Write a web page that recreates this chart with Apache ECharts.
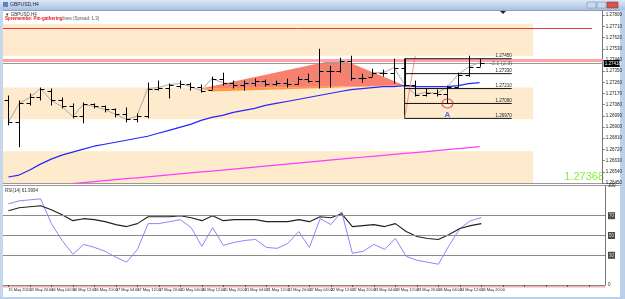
<!DOCTYPE html>
<html>
<head>
<meta charset="utf-8">
<script src="https://cdn.jsdelivr.net/npm/echarts@6/dist/echarts.min.js"></script>
<style>
html,body{margin:0;padding:0;background:#fff;}
#main{width:625px;height:299px;}
</style>
</head>
<body>
<div id="main"></div>
<script>
// GBPUSD H4 bars, 15 May 12:00 .. 24 May 20:00
var barTimes = ['15 May 2024','15 May 16:00','15 May 20:00','16 May 00:00','16 May 04:00','16 May 08:00','16 May 12:00','16 May 16:00','16 May 20:00',
  '17 May 00:00','17 May 04:00','17 May 08:00','17 May 12:00','17 May 16:00','17 May 20:00',
  '20 May 00:00','20 May 04:00','20 May 08:00','20 May 12:00','20 May 16:00','20 May 20:00',
  '21 May 00:00','21 May 04:00','21 May 08:00','21 May 12:00','21 May 16:00','21 May 20:00',
  '22 May 00:00','22 May 04:00','22 May 08:00','22 May 12:00','22 May 16:00','22 May 20:00',
  '23 May 00:00','23 May 04:00','23 May 08:00','23 May 12:00','23 May 16:00','23 May 20:00',
  '24 May 00:00','24 May 04:00','24 May 08:00','24 May 12:00','24 May 16:00','24 May 20:00'];
var futureSlots = ['f1','f2','f3','f4','f5','f6','f7','f8','f9','f10','f11'];

var open = [1.27114,1.26938,1.27090,1.27138,1.27194,1.27114,1.27066,1.26986,1.27082,1.27066,
  1.27042,1.27002,1.26962,1.26986,1.27210,1.27218,1.27234,1.27250,1.27226,1.27202,
  1.27290,1.27258,1.27242,1.27258,1.27274,1.27250,1.27258,1.27250,1.27290,1.27274,
  1.27354,1.27354,1.27434,1.27298,1.27306,1.27338,1.27338,1.27378,1.27242,1.27162,
  1.27178,1.27170,1.27226,1.27322,1.27386];
var high = [1.27154,1.27114,1.27170,1.27218,1.27210,1.27138,1.27090,1.27098,1.27090,1.27074,
  1.27050,1.27058,1.27010,1.27258,1.27274,1.27250,1.27274,1.27258,1.27242,1.27306,
  1.27338,1.27274,1.27274,1.27290,1.27282,1.27274,1.27290,1.27306,1.27330,1.27530,
  1.27394,1.27458,1.27474,1.27330,1.27370,1.27362,1.27450,1.27450,1.27274,1.27210,
  1.27202,1.27234,1.27338,1.27474,1.27450];
var low = [1.26914,1.26738,1.27074,1.27114,1.27074,1.27050,1.26970,1.26930,1.27050,1.27018,
  1.26978,1.26938,1.26938,1.26970,1.27194,1.27130,1.27210,1.27194,1.27178,1.27202,
  1.27234,1.27210,1.27194,1.27226,1.27226,1.27234,1.27218,1.27242,1.27258,1.27210,
  1.27218,1.27338,1.27274,1.27258,1.27306,1.27306,1.27250,1.27226,1.27146,1.27146,
  1.27146,1.27090,1.27218,1.27306,1.27386];
var close = [1.26938,1.27090,1.27138,1.27210,1.27114,1.27066,1.26986,1.27082,1.27066,1.27042,
  1.27002,1.26962,1.26986,1.27210,1.27218,1.27242,1.27250,1.27226,1.27194,1.27290,
  1.27258,1.27242,1.27258,1.27274,1.27250,1.27258,1.27250,1.27290,1.27274,1.27354,
  1.27354,1.27434,1.27298,1.27298,1.27338,1.27338,1.27378,1.27242,1.27162,1.27178,
  1.27170,1.27226,1.27322,1.27386,1.27418];

var maBlue = [1.26498,1.26514,1.26554,1.26602,1.26642,1.26674,1.26698,1.26722,1.26746,1.26762,
  1.26778,1.26794,1.26810,1.26826,1.26850,1.26874,1.26898,1.26922,1.26954,1.26978,
  1.26994,1.27018,1.27034,1.27050,1.27074,1.27090,1.27106,1.27122,1.27138,1.27154,
  1.27170,1.27186,1.27202,1.27210,1.27218,1.27226,1.27226,1.27234,1.27226,1.27226,
  1.27226,1.27226,1.27234,1.27250,1.27258];
var maMagenta = [null,null,null,null,null,null,1.26445,1.26453,1.26461,1.26469,
  1.26477,1.26485,1.26492,1.26500,1.26508,1.26515,1.26523,1.26531,1.26539,1.26546,
  1.26554,1.26562,1.26570,1.26578,1.26586,1.26594,1.26602,1.26610,1.26618,1.26626,
  1.26634,1.26642,1.26650,1.26657,1.26664,1.26672,1.26680,1.26688,1.26695,1.26702,
  1.26710,1.26718,1.26726,1.26734,1.26742];

var rsiMain = [75,78,79,80,76,71,65,67,66,64,61,59,62,69,69,69,70,68,65,70,
  65,66,66,66,64,64,64,66,64,69,68,72,59,60,61,59,62,54,49,47,46,51,57,60,62];
var rsiSignal = [82,85,86,87,62,45,31,41,38,34,28,23,36,62,62,64,66,58,39,58,
  40,43,45,46,38,37,42,54,38,67,61,74,32,34,41,36,47,29,25,23,21,40,57,65,68];
var rsiLevels = [70, 50, 30];

// zones and drawn objects
var zones = [[1.27474,1.27730],[1.26962,1.27218],[1.26450,1.26706]];
var zoneEnd = 49;
var patternTop = [[18,1.27210],[31,1.27450],[37,1.27234]];
var patternBase = [[18,1.27210],[37,1.27234],[19,1.27186]];
var fibLevels = [1.27450,1.27330,1.27210,1.27090,1.26970];
var fibFrom = 37, fibTo = 47;
var lastClose = close[close.length - 1];
// horizontal levels: price, last slot
var levels = [[1.27698, 54], [1.27438, 55], [lastClose, 55]];
var levelStyles = [
  {stroke: '#e83a3a', lineWidth: 1},
  {stroke: '#ffa4a4', lineWidth: 3},
  {stroke: '#9a9a9a', lineWidth: 1}
];
var markerA = [41, 1.27090];
var ratioText = '-2.1 (2.3)';

var categories = barTimes.concat(futureSlots);
var ohlc = barTimes.map(function (t, i) { return [i, open[i], high[i], low[i], close[i]]; });
var tiny = 4.5;
var fnt = 'Liberation Sans';

function renderBar(params, api) {
  var i = api.value(0);
  var o = api.coord([i, api.value(1)]);
  var h = api.coord([i, api.value(2)]);
  var l = api.coord([i, api.value(3)]);
  var c = api.coord([i, api.value(4)]);
  var x = Math.round(o[0]) + 0.5;
  var st = {stroke: '#000', lineWidth: 1};
  return {type: 'group', children: [
    {type: 'line', shape: {x1: x, y1: h[1], x2: x, y2: l[1]}, style: st},
    {type: 'line', shape: {x1: x - 4, y1: Math.round(o[1]) + 0.5, x2: x, y2: Math.round(o[1]) + 0.5}, style: st},
    {type: 'line', shape: {x1: x, y1: Math.round(c[1]) + 0.5, x2: x + 4, y2: Math.round(c[1]) + 0.5}, style: st}
  ]};
}

function renderZone(params, api) {
  var a = api.coord([0, api.value(1)]);
  var b = api.coord([zoneEnd, api.value(0)]);
  var half = api.size([1, 0])[0] / 2;
  return {type: 'rect', shape: {x: a[0] - half, y: a[1], width: b[0] - a[0] + half, height: b[1] - a[1]},
    style: {fill: '#feeacd'}};
}

function renderLevel(params, api) {
  var v = api.value(0);
  var a = api.coord([0, v]);
  var b = api.coord([api.value(1), v]);
  var half = api.size([1, 0])[0] / 2;
  var y = Math.round(a[1]) + 0.5;
  var x2 = b[0] + half;
  var kids = [{type: 'line', shape: {x1: a[0] - half, y1: y, x2: x2, y2: y}, style: levelStyles[params.dataIndex]}];
  if (params.dataIndex === levels.length - 1) {
    kids.push({type: 'rect', shape: {x: x2 + 1, y: y - 3.5, width: 16, height: 7}, style: {fill: '#000'}});
    kids.push({type: 'text', x: x2 + 2, y: y, style: {text: v.toFixed(5), fill: '#fff', fontSize: tiny,
      fontFamily: fnt, verticalAlign: 'middle'}});
  }
  return {type: 'group', children: kids};
}

function polyRenderer(points, color) {
  return function (params, api) {
    return {type: 'polygon', shape: {points: points.map(function (p) { return api.coord(p); })},
      style: {fill: color}};
  };
}

var fibSeries = fibLevels.map(function (v) {
  return {
    type: 'line', xAxisIndex: 0, yAxisIndex: 0, silent: true, z: 6,
    symbol: 'circle', symbolSize: 0, lineStyle: {color: '#111', width: 1},
    data: [[fibFrom, v], {value: [fibTo, v], label: {show: true, position: 'top', distance: 0, align: 'right',
      fontSize: tiny, fontFamily: fnt, color: '#222', formatter: v.toFixed(5)}}]
  };
});

var timeLabel = {interval: 1, fontSize: 3.9, fontFamily: fnt, color: '#222', align: 'left', margin: 3};

var option = {
  animation: false,
  backgroundColor: '#fff',
  grid: [
    {left: 3, right: 20, top: 11, height: 172},
    {left: 3, right: 20, top: 186, height: 99}
  ],
  xAxis: [
    {type: 'category', gridIndex: 0, data: categories, boundaryGap: true,
      axisLine: {show: false}, axisTick: {show: false}, axisLabel: {show: false}},
    {type: 'category', gridIndex: 1, position: 'bottom', data: categories, boundaryGap: true,
      axisLine: {show: true, lineStyle: {color: '#888'}},
      axisTick: {show: true, interval: 1, length: 2, alignWithLabel: true, lineStyle: {color: '#555'}},
      axisLabel: Object.assign({}, timeLabel, {showMinLabel: true,
        formatter: function (v, i) { return (i === 0 || v.charAt(0) === 'f') ? '' : v; }})},
    {type: 'category', gridIndex: 1, position: 'bottom', data: categories, boundaryGap: true,
      axisLine: {show: false}, axisTick: {show: false},
      axisLabel: Object.assign({}, timeLabel, {showMinLabel: true, margin: 3,
        formatter: function (v, i) { return i === 0 ? v : ''; }})}
  ],
  yAxis: [
    {type: 'value', gridIndex: 0, position: 'right', min: 1.2645, max: 1.27834, interval: 0.0009,
      axisLine: {show: true, lineStyle: {color: '#777'}}, axisTick: {show: true, length: 2, lineStyle: {color: '#777'}},
      splitLine: {show: false},
      axisLabel: {fontSize: tiny, fontFamily: fnt, color: '#222', margin: 3, showMaxLabel: false,
        formatter: function (v) { return v.toFixed(5); }}},
    {type: 'value', gridIndex: 1, position: 'right', min: 0, max: 100, interval: 10,
      axisLine: {show: true, lineStyle: {color: '#777'}}, axisTick: {show: false},
      splitLine: {show: false},
      axisLabel: {fontSize: tiny, fontFamily: fnt, margin: 3,
        formatter: function (v) {
          if (rsiLevels.indexOf(v) >= 0) return '{lv|' + v + '}';
          if (v === 0 || v === 100) return String(v);
          return '';
        },
        color: '#222',
        rich: {lv: {backgroundColor: '#4a4a4a', color: '#ddd', fontSize: tiny, padding: [1, 1]}}}}
  ],
  series: [
    {type: 'custom', name: 'zones', xAxisIndex: 0, yAxisIndex: 0, silent: true, z: 1,
      renderItem: renderZone, encode: {x: -1, y: [0, 1]}, data: zones},
    {type: 'custom', name: 'patternBase', xAxisIndex: 0, yAxisIndex: 0, silent: true, z: 2,
      renderItem: polyRenderer(patternBase, '#ff9a40'), data: [patternBase[0]]},
    {type: 'custom', name: 'pattern', xAxisIndex: 0, yAxisIndex: 0, silent: true, z: 2,
      renderItem: polyRenderer(patternTop, '#f9806e'), data: [patternTop[0]]},
    {type: 'custom', name: 'levels', xAxisIndex: 0, yAxisIndex: 0, silent: true, z: 3,
      renderItem: renderLevel, encode: {x: 1, y: 0}, data: levels},
    {type: 'line', name: 'MA slow', xAxisIndex: 0, yAxisIndex: 0, data: maMagenta, symbol: 'none',
      lineStyle: {color: '#ff3cff', width: 1.2}, z: 3},
    {type: 'line', name: 'MA', xAxisIndex: 0, yAxisIndex: 0, data: maBlue, symbol: 'none',
      lineStyle: {color: '#2525ff', width: 1.2}, z: 3},
    {type: 'line', name: 'close', xAxisIndex: 0, yAxisIndex: 0, data: close, symbol: 'none',
      lineStyle: {color: '#a0a0a0', width: 0.9}, z: 4},
    {type: 'line', name: 'fibEdge', xAxisIndex: 0, yAxisIndex: 0, silent: true, symbol: 'none', z: 6,
      lineStyle: {color: '#111', width: 1}, data: [[fibFrom, fibLevels[0]], [fibFrom, fibLevels[fibLevels.length - 1]]]},
    {type: 'line', name: 'fibRay', xAxisIndex: 0, yAxisIndex: 0, silent: true, symbol: 'none', z: 6,
      lineStyle: {color: '#f07a7a', width: 0.8}, data: [[fibFrom, fibLevels[fibLevels.length - 1]], [fibFrom + 1, 1.27474]]}
  ].concat(fibSeries).concat([
    {type: 'custom', name: 'GBPUSD', xAxisIndex: 0, yAxisIndex: 0, renderItem: renderBar,
      encode: {x: 0, y: [1, 2, 3, 4]}, data: ohlc, z: 7},
    {type: 'scatter', name: 'circle', xAxisIndex: 0, yAxisIndex: 0, silent: true, z: 8,
      symbol: 'circle', symbolSize: [11, 9],
      itemStyle: {color: 'transparent', borderColor: '#e02020', borderWidth: 1}, data: [markerA]},
    {type: 'scatter', name: 'A', xAxisIndex: 0, yAxisIndex: 0, silent: true, z: 8, symbolSize: 0,
      label: {show: true, position: 'inside', formatter: 'A', color: '#3a46d8', fontWeight: 'bold', fontSize: 8, fontFamily: fnt},
      data: [[41, 1.27002]]},
    {type: 'scatter', name: 'ratio', xAxisIndex: 0, yAxisIndex: 0, silent: true, z: 8, symbolSize: 0,
      label: {show: true, position: 'inside', formatter: ratioText, color: '#444', fontSize: 5.5, fontFamily: fnt},
      data: [[46, 1.27410]]},
    {type: 'line', name: 'RSI', xAxisIndex: 1, yAxisIndex: 1, data: rsiMain, symbol: 'none',
      lineStyle: {color: '#222', width: 1.1}, z: 4,
      markLine: {silent: true, symbol: ['none', 'none'], label: {show: false},
        lineStyle: {color: '#8c8c8c', width: 1, type: 'solid'},
        data: rsiLevels.map(function (v) { return {yAxis: v}; })}},
    {type: 'line', name: 'Signal', xAxisIndex: 1, yAxisIndex: 1, data: rsiSignal, symbol: 'none',
      lineStyle: {color: '#8888ff', width: 1}, z: 3}
  ]),
  graphic: [
    {type: 'rect', shape: {x: 0, y: 0, width: 625, height: 10}, silent: true,
      style: {fill: new echarts.graphic.LinearGradient(0, 0, 0, 1, [{offset: 0, color: '#dde8f6'}, {offset: 1, color: '#a8c2e4'}])}},
    {type: 'rect', shape: {x: 3, y: 2, width: 5, height: 5}, style: {fill: '#5d83c0'}},
    {type: 'text', x: 10, y: 2.5, style: {text: 'GBPUSD,H4', fontSize: 5, fontFamily: fnt, fill: '#223'}},
    {type: 'rect', shape: {x: 587, y: 2, width: 9, height: 6}, style: {fill: '#c9d9ee', stroke: '#7f93b0', lineWidth: 0.6}},
    {type: 'rect', shape: {x: 597, y: 2, width: 9, height: 6}, style: {fill: '#c9d9ee', stroke: '#7f93b0', lineWidth: 0.6}},
    {type: 'rect', shape: {x: 607, y: 2, width: 11, height: 6}, style: {fill: '#d9534a', stroke: '#8d3a33', lineWidth: 0.6}},
    {type: 'rect', shape: {x: 0, y: 10, width: 625, height: 1}, style: {fill: '#8e9fb5'}},
    {type: 'rect', shape: {x: 0, y: 10, width: 3, height: 289}, style: {fill: '#c6d7ec'}},
    {type: 'rect', shape: {x: 620, y: 10, width: 5, height: 289}, style: {fill: '#bcd0ea'}},
    {type: 'rect', shape: {x: 0, y: 297, width: 625, height: 2}, style: {fill: '#bcd0ea'}},
    {type: 'rect', shape: {x: 3, y: 183, width: 617, height: 1}, style: {fill: '#9a9a9a'}},
    {type: 'rect', shape: {x: 3, y: 185, width: 617, height: 1}, style: {fill: '#9a9a9a'}},
    {type: 'rect', shape: {x: 3, y: 286, width: 602, height: 1.5}, style: {fill: '#f2b4b4'}},
    {type: 'polygon', shape: {points: [[500, 11], [506, 11], [503, 14]]}, style: {fill: '#222'}},
    {type: 'text', x: 5, y: 12, style: {text: '\u25BC GBPUSD,H4', fontSize: tiny, fontFamily: fnt, fill: '#333'}},
    {type: 'text', x: 5, y: 16, style: {text: '{r|Spremembe: Pin-gathering}{g|lines (Spread: 1.3)}', fontSize: tiny, fontFamily: fnt,
      rich: {r: {fill: '#e01818', fontSize: tiny, fontWeight: 'bold'}, g: {fill: '#555', fontSize: tiny}}}},
    {type: 'text', x: 5, y: 188, style: {text: 'RSI(14) 61.9994', fontSize: tiny, fontFamily: fnt, fill: '#333'}},
    {type: 'text', x: 604, y: 182, style: {text: '1.27368', fontSize: 11, fontFamily: fnt, fill: '#86f03c', align: 'right', verticalAlign: 'bottom'}}
  ]
};

var myChart = echarts.init(document.getElementById('main'));
myChart.setOption(option);
</script>
</body>
</html>
